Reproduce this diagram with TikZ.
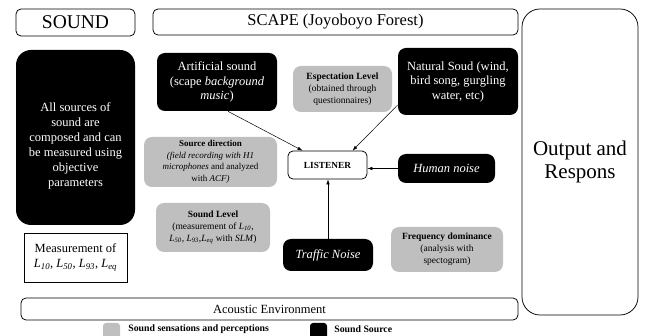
\documentclass[tikz,border=0pt]{standalone}
\usepackage{fontspec}
\setmainfont{Liberation Serif}
\usetikzlibrary{arrows.meta,calc}

\definecolor{percgray}{RGB}{191,191,191}
\newcommand{\Lx}[1]{\textit{L\textsubscript{#1}}}

\tikzset{every picture/.style={line width=0.75pt}}
\tikzset{
  srcbox/.style={fill=black,text=white,rounded corners=8pt,align=center,inner sep=0pt,font=\fontsize{12.5}{14.5}\selectfont},
  percbox/.style={fill=percgray,rounded corners=8pt,align=center,inner sep=0pt,font=\fontsize{9.5}{12}\selectfont},
  titlebox/.style={draw,rounded corners=5pt,align=center,inner sep=0pt},
  toarrow/.style={-{Latex[length=5pt,width=3.5pt]},line width=0.5pt}
}

\begin{document}
\begin{tikzpicture}[x=1pt,y=1pt,yscale=-1,xscale=1]
\useasboundingbox (0,0) rectangle (645,336);

%Title boxes
\node [titlebox,minimum width=119,minimum height=27,font=\fontsize{19.5}{22}\selectfont] (sound) at (75.5,22.5) {SOUND};
\node [titlebox,minimum width=365,minimum height=26,font=\fontsize{16.5}{19}\selectfont] (scape) at (335.5,22) {SCAPE (Joyoboyo Forest)};
\node [titlebox,rounded corners=18pt,minimum width=116,minimum height=306,font=\fontsize{21}{23.5}\selectfont] (output) at (580,162) {Output and\\Respons};

%Sound column
\node [srcbox,rounded corners=15pt,minimum width=119,minimum height=175] (allsrc) at (75.5,137.5) {};
\node [text=white,align=center,inner sep=0pt,font=\fontsize{12.5}{15}\selectfont] (allsrc-t) at (75.5,146) {All sources of\\sound are\\composed and can\\be measured using\\objective\\parameters};
\node [draw,align=center,inner sep=0pt,minimum width=103,minimum height=49,font=\fontsize{12.5}{15}\selectfont] (measure) at (75.5,257.5) {Measurement of\\\Lx{10}, \Lx{50}, \Lx{93}, \Lx{eq}};

%Sound sources
\node [srcbox,minimum width=120,minimum height=58] (artif) at (217,82) {Artificial sound\\(scape \textit{background}\\\textit{music})};
\node [srcbox,minimum width=120,minimum height=67] (natur) at (458,81.5) {Natural Soud (wind,\\bird song, gurgling\\water, etc)};
\node [srcbox,minimum width=97,minimum height=29] (human) at (446.5,168.5) {\textit{Human noise}};
\node [srcbox,minimum width=90,minimum height=32] (traffic) at (328,255) {\textit{Traffic Noise}};

%Sensations and perceptions
\node [percbox,minimum width=99,minimum height=46] (expect) at (342.5,89) {\textbf{Espectation Level}\\(obtained through\\questionnaires)};
\node [percbox,minimum width=133,minimum height=50,font=\fontsize{9}{11.5}\selectfont] (srcdir) at (210.5,162) {\textbf{Source direction}\\\textit{(field recording with H1}\\\textit{microphones} and analyzed\\with \textit{ACF)}};
\node [percbox,minimum width=114,minimum height=49] (level) at (213,227.5) {\textbf{Sound Level}\\(measurement of \Lx{10},\\\Lx{50}, \Lx{93},\Lx{eq} with \textit{SLM})};
\node [percbox,minimum width=112,minimum height=45] (freq) at (447,249.5) {\textbf{Frequency dominance}\\(analysis with\\spectogram)};

%Listener
\node [titlebox,minimum width=79,minimum height=28,font=\fontsize{9.3}{11}\selectfont\bfseries] (listen) at (327.5,165) {LISTENER};

%Acoustic environment
\node [titlebox,minimum width=497,minimum height=22,font=\fontsize{12.5}{15}\selectfont] (acoustic) at (269.5,309) {Acoustic Environment};

%Arrows
\draw [toarrow] ($(artif.south)+(11,0)$) -- ($(listen.north)+(-25,0)$);
\draw [toarrow] ($(natur.west)+(0,23.5)$) -- ($(listen.north)+(25,0)$);
\draw [toarrow] (human.west) -- (human.west -| listen.east);
\draw [toarrow] (traffic.north) -- (traffic.north |- listen.south);

%Legend
\node [fill=percgray,rounded corners=3pt,minimum size=17,inner sep=0pt] (leg-perc) at (111.5,331.5) {};
\node [anchor=west,inner sep=0pt,font=\fontsize{9.8}{12}\selectfont\bfseries] (leg-perc-t) at (128,329) {Sound sensations and perceptions};
\node [fill=black,rounded corners=3pt,minimum size=17,inner sep=0pt] (leg-src) at (318.5,331.5) {};
\node [anchor=west,inner sep=0pt,font=\fontsize{9.8}{12}\selectfont\bfseries] (leg-src-t) at (334,329) {Sound Source};

\end{tikzpicture}
\end{document}
